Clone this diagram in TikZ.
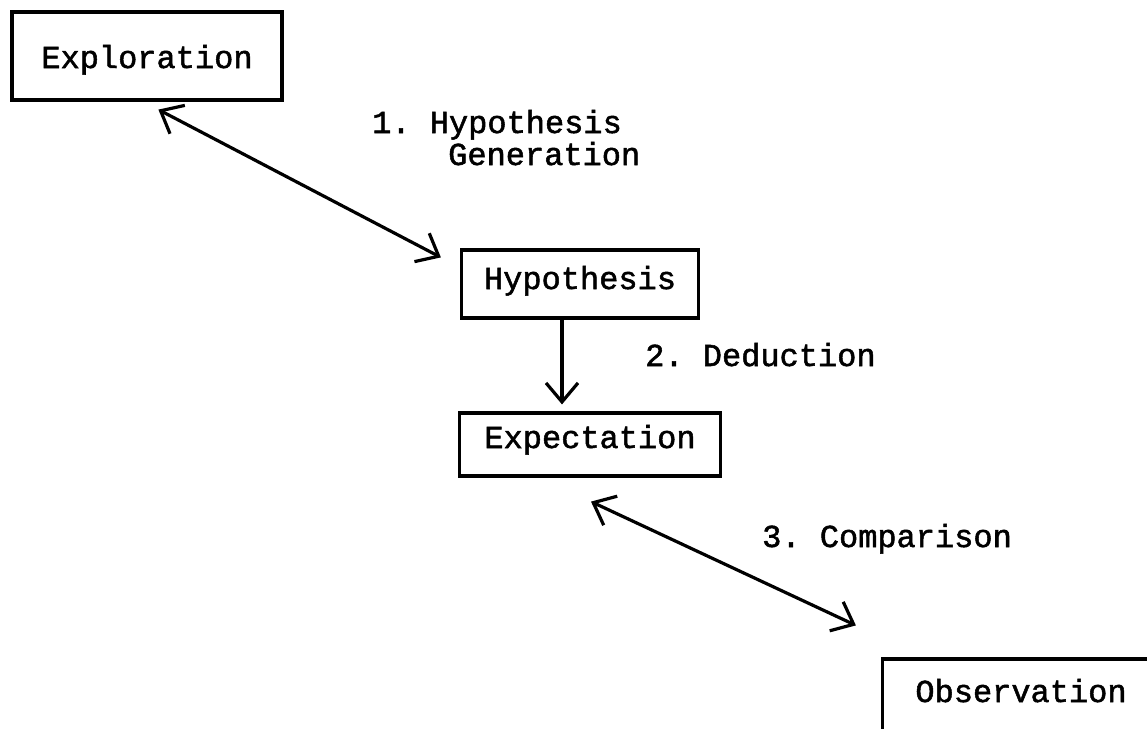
\documentclass[tikz,border=0pt]{standalone}
\usepackage{fontspec}
\setmainfont{Liberation Mono}[RawFeature={embolden=1.6}]
\usetikzlibrary{arrows.meta,calc}

\begin{document}
\frenchspacing
\begin{tikzpicture}[x=1pt,y=-1pt,
  tw/.style={font=\fontsize{32}{33}\selectfont\frenchspacing},
  frame/.style={tw, draw, line width=3.2pt, inner sep=0pt, anchor=base},
  lbl/.style={tw, inner sep=0pt, anchor=base west},
  link/.style={line width=3.2pt, line cap=round, line join=round},
  barb/.tip={Straight Barb[length=19pt, width=32pt]}
]
\useasboundingbox (0,0) rectangle (1147,728);

% boxes of the cycle
\node[frame, minimum width=270pt, text height=56pt, text depth=32pt] (expl) at (147,68) {Exploration};
\node[frame, minimum width=237pt, text height=39pt, text depth=29pt] (hyp) at (580,289) {Hypothesis};
\node[frame, minimum width=261pt, text height=35pt, text depth=28pt] (expt) at (590,448) {Expectation};
\node[frame, minimum width=277pt, text height=43pt, text depth=60pt] (obs) at (1021,702) {Observation};

% step labels
\node[lbl] (l1a) at (372,133) {1. Hypothesis};
\node[lbl] (l1b) at (448,165) {Generation};
\node[lbl] (l2) at (645,366) {2. Deduction};
\node[lbl] (l3) at (762,547) {3. Comparison};

% connectors
\draw[link, barb-barb] ($(expl.south west)+(148,8)$) -- ($(hyp.north west)+(-19,9)$);
\draw[link, -barb] ($(hyp.south)+(-18,0)$) -- ($(expt.north)+(-28,-7)$);
\draw[link, barb-barb] ($(expt.south)+(1,24)$) -- ($(obs.north west)+(-25,-32)$);
\end{tikzpicture}
\end{document}
